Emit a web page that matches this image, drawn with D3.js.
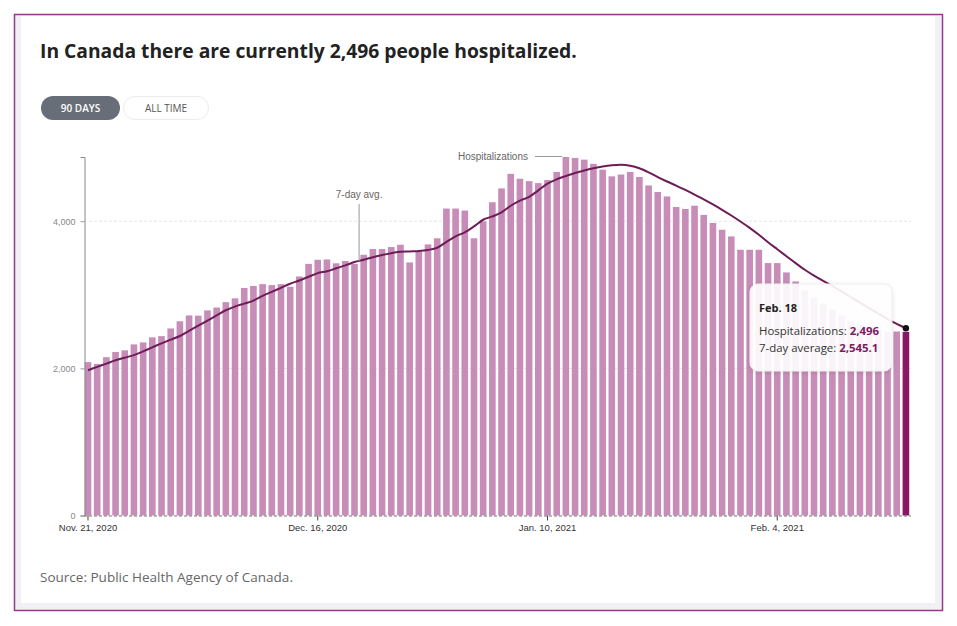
<!DOCTYPE html>
<html><head><meta charset="utf-8">
<script src="https://cdn.jsdelivr.net/npm/d3@7"></script>
<style>
html,body{margin:0;padding:0;background:#fff;}
svg{display:block;}
</style></head><body>
<svg id="chart" width="957" height="626"></svg>
<script>
// ---- data ----
const startDate = "2020-11-21";
const hospitalizations = [
  2085,2060,2152,2222,2245,2326,2353,2421,2438,2542,
  2640,2720,2716,2788,2827,2900,2952,3093,3120,3145,
  3132,3144,3110,3249,3420,3476,3480,3428,3460,3420,
  3544,3622,3622,3649,3680,3440,3590,3685,3768,4172,
  4172,4145,3768,3998,4258,4446,4644,4578,4545,4518,
  4560,4670,4873,4860,4837,4780,4701,4610,4635,4670,
  4601,4486,4397,4337,4193,4166,4211,4086,3976,3884,
  3793,3612,3612,3612,3431,3431,3304,3181,3060,2960,
  2880,2800,2720,2640,2590,2560,2530,2500,2501,2496
];
const sevenDayAvg = [
  1975,2020,2065,2110,2145,2180,2230,2285,2340,2390,
  2440,2510,2580,2650,2720,2790,2840,2880,2920,2985,
  3040,3095,3150,3195,3245,3295,3320,3360,3400,3445,
  3476,3510,3540,3565,3585,3590,3595,3610,3640,3720,
  3795,3850,3930,4020,4065,4120,4210,4280,4330,4420,
  4510,4570,4615,4655,4690,4720,4745,4762,4768,4755,
  4720,4665,4600,4540,4485,4425,4362,4297,4228,4155,
  4078,3996,3910,3815,3715,3620,3525,3430,3340,3260,
  3190,3120,3045,2970,2895,2820,2745,2670,2605,2545.1
];
const xTickDates = ["2020-11-21","2020-12-16","2021-01-10","2021-02-04"];
const xTickLabels = ["Nov. 21, 2020","Dec. 16, 2020","Jan. 10, 2021","Feb. 4, 2021"];
const yTickValues = [0, 2000, 4000];
const titleText = "In Canada there are currently 2,496 people hospitalized.";
const buttonLabels = ["90 DAYS", "ALL TIME"];
const tooltipDate = "Feb. 18";
const tooltipHospLabel = "Hospitalizations: ";
const tooltipHospValue = "2,496";
const tooltipAvgLabel = "7-day average: ";
const tooltipAvgValue = "2,545.1";
const annotationAvg = "7-day avg.";
const annotationHosp = "Hospitalizations";
const sourceText = "Source: Public Health Agency of Canada.";

// ---- setup ----
const parse = d3.timeParse("%Y-%m-%d");
const start = parse(startDate);
const dates = d3.timeDay.range(start, d3.timeDay.offset(start, hospitalizations.length));
const data = dates.map((d, i) => ({date: d, value: hospitalizations[i], avg: sevenDayAvg[i]}));

const svg = d3.select("#chart");
const sans = "'Open Sans', 'Noto Sans', sans-serif";
const axisFont = "'Liberation Sans', Arial, sans-serif";

function fit(sel, target) {
  const node = sel.node();
  const w = node.getComputedTextLength();
  const fs = parseFloat(sel.attr("font-size"));
  sel.attr("font-size", (fs * target / w).toFixed(2));
}

// frame
svg.append("rect").attr("x", 14.5).attr("y", 14.5).attr("width", 928).attr("height", 596)
  .attr("fill", "#f0f0f5").attr("stroke", "#8f3f87").attr("stroke-width", 1.5);
svg.append("rect").attr("x", 21).attr("y", 16).attr("width", 914).attr("height", 587).attr("fill", "#fff");

// title
const title = svg.append("text").attr("x", 40).attr("y", 58)
  .attr("font-family", sans).attr("font-weight", 700).attr("font-size", 18)
  .attr("fill", "#222").text(titleText);
fit(title, 537);

// buttons
svg.append("rect").attr("x", 41).attr("y", 96).attr("width", 79).attr("height", 24).attr("rx", 12)
  .attr("fill", "#686e77");
svg.append("text").attr("x", 80.5).attr("y", 111.5).attr("text-anchor", "middle")
  .attr("font-family", sans).attr("font-weight", 600).attr("font-size", 10).attr("fill", "#fff")
  .text(buttonLabels[0]);
svg.append("rect").attr("x", 123.5).attr("y", 96.5).attr("width", 85).attr("height", 23).attr("rx", 11.5)
  .attr("fill", "#fff").attr("stroke", "#ececec");
svg.append("text").attr("x", 166).attr("y", 111.5).attr("text-anchor", "middle")
  .attr("font-family", sans).attr("font-weight", 400).attr("font-size", 10).attr("fill", "#555")
  .text(buttonLabels[1]);

// scales
const x = d3.scaleBand().domain(dates).range([83.4, 910.5]).paddingInner(0.28).paddingOuter(0.14);
const y = d3.scaleLinear().domain([0, d3.max(hospitalizations)]).range([515.5, 157]);
const bw = x.bandwidth();
const cx = d => x(d) + bw / 2;

// gridlines
svg.append("g").selectAll("line").data(yTickValues.filter(v => v > 0)).join("line")
  .attr("x1", 84).attr("x2", 911).attr("y1", d => y(d)).attr("y2", d => y(d))
  .attr("stroke", "#e6e6e6").attr("stroke-width", 1).attr("stroke-dasharray", "3,2");

// bars
svg.append("g").selectAll("rect").data(data).join("rect")
  .attr("x", d => x(d.date)).attr("width", bw)
  .attr("y", d => y(d.value)).attr("height", d => y(0) - y(d.value))
  .attr("fill", (d, i) => i === data.length - 1 ? "#8a1766" : "#c78cb7");

// baseline
svg.append("line").attr("x1", 84).attr("x2", 911).attr("y1", y(0) + 0.5).attr("y2", y(0) + 0.5)
  .attr("stroke", "#777").attr("stroke-dasharray", "3,2");

// y axis
const yAxis = svg.append("g").attr("transform", "translate(84.5,0)")
  .call(d3.axisLeft(y).tickValues(yTickValues).tickFormat(d3.format(",")).tickSize(4).tickPadding(5));
yAxis.select(".domain").attr("stroke", "#888");
yAxis.selectAll(".tick line").attr("stroke", "#999");
yAxis.selectAll("text").attr("fill", "#888").attr("font-family", axisFont).attr("font-size", 9);

// x axis
const tickDates = xTickDates.map(parse);
const xAxis = svg.append("g").attr("transform", `translate(0,${y(0)})`)
  .call(d3.axisBottom(x).tickValues(tickDates.map(t => dates.find(d => +d === +t)))
    .tickFormat((d, i) => xTickLabels[i]).tickSize(5).tickPadding(4));
xAxis.select(".domain").remove();
xAxis.selectAll(".tick line").attr("stroke", "#444");
xAxis.selectAll("text").attr("fill", "#333").attr("font-family", axisFont).attr("font-size", 9.5);

// 7-day avg line
const line = d3.line().x(d => cx(d.date)).y(d => y(d.avg)).curve(d3.curveMonotoneX);
svg.append("path").datum(data).attr("d", line)
  .attr("fill", "none").attr("stroke", "#6e1c57").attr("stroke-width", 2);

// annotations
const aX = (cx(dates[29]) + cx(dates[30])) / 2;
const aY = y((sevenDayAvg[29] + sevenDayAvg[30]) / 2);
svg.append("line").attr("x1", aX).attr("x2", aX).attr("y1", 204).attr("y2", aY)
  .attr("stroke", "#999").attr("stroke-width", 1);
svg.append("text").attr("x", aX).attr("y", 198).attr("text-anchor", "middle")
  .attr("font-family", axisFont).attr("font-size", 10).attr("fill", "#666").text(annotationAvg);

const maxIdx = hospitalizations.indexOf(d3.max(hospitalizations));
const hY = y(hospitalizations[maxIdx]) - 0.5;
svg.append("line").attr("x1", 535).attr("x2", x(dates[maxIdx]) - 0.5).attr("y1", hY).attr("y2", hY)
  .attr("stroke", "#999").attr("stroke-width", 1);
svg.append("text").attr("x", 528).attr("y", hY + 3.5).attr("text-anchor", "end")
  .attr("font-family", axisFont).attr("font-size", 10).attr("fill", "#666").text(annotationHosp);

// tooltip
const defs = svg.append("defs");
const f = defs.append("filter").attr("id", "sh").attr("x", "-20%").attr("y", "-20%").attr("width", "140%").attr("height", "140%");
f.append("feDropShadow").attr("dx", 0).attr("dy", 1).attr("stdDeviation", 2).attr("flood-color", "#000").attr("flood-opacity", 0.12);
const tt = svg.append("g");
tt.append("rect").attr("x", 750).attr("y", 284).attr("width", 142).attr("height", 87).attr("rx", 8)
  .attr("fill", "#fff").attr("fill-opacity", 0.9).attr("stroke", "#eee").attr("filter", "url(#sh)");
tt.append("text").attr("x", 759).attr("y", 311.5).attr("font-family", sans).attr("font-weight", 700)
  .attr("font-size", 11).attr("fill", "#222").text(tooltipDate);
const t1 = tt.append("text").attr("x", 759).attr("y", 334.5).attr("font-family", sans)
  .attr("font-size", 10.5).attr("fill", "#333");
t1.append("tspan").text(tooltipHospLabel);
t1.append("tspan").attr("font-weight", 700).attr("fill", "#7d1a62").text(tooltipHospValue);
fit(t1, 120);
const t2 = tt.append("text").attr("x", 759).attr("y", 351.5).attr("font-family", sans)
  .attr("font-size", 10.5).attr("fill", "#333");
t2.append("tspan").text(tooltipAvgLabel);
t2.append("tspan").attr("font-weight", 700).attr("fill", "#7d1a62").text(tooltipAvgValue);
t2.attr("font-size", t1.attr("font-size"));

// end dot
const last = data[data.length - 1];
svg.append("circle").attr("cx", cx(last.date)).attr("cy", y(last.avg)).attr("r", 3.2).attr("fill", "#111");

// source
const src = svg.append("text").attr("x", 40).attr("y", 582).attr("font-family", sans)
  .attr("font-size", 12).attr("fill", "#666").text(sourceText);
fit(src, 253);
</script>
</body></html>
